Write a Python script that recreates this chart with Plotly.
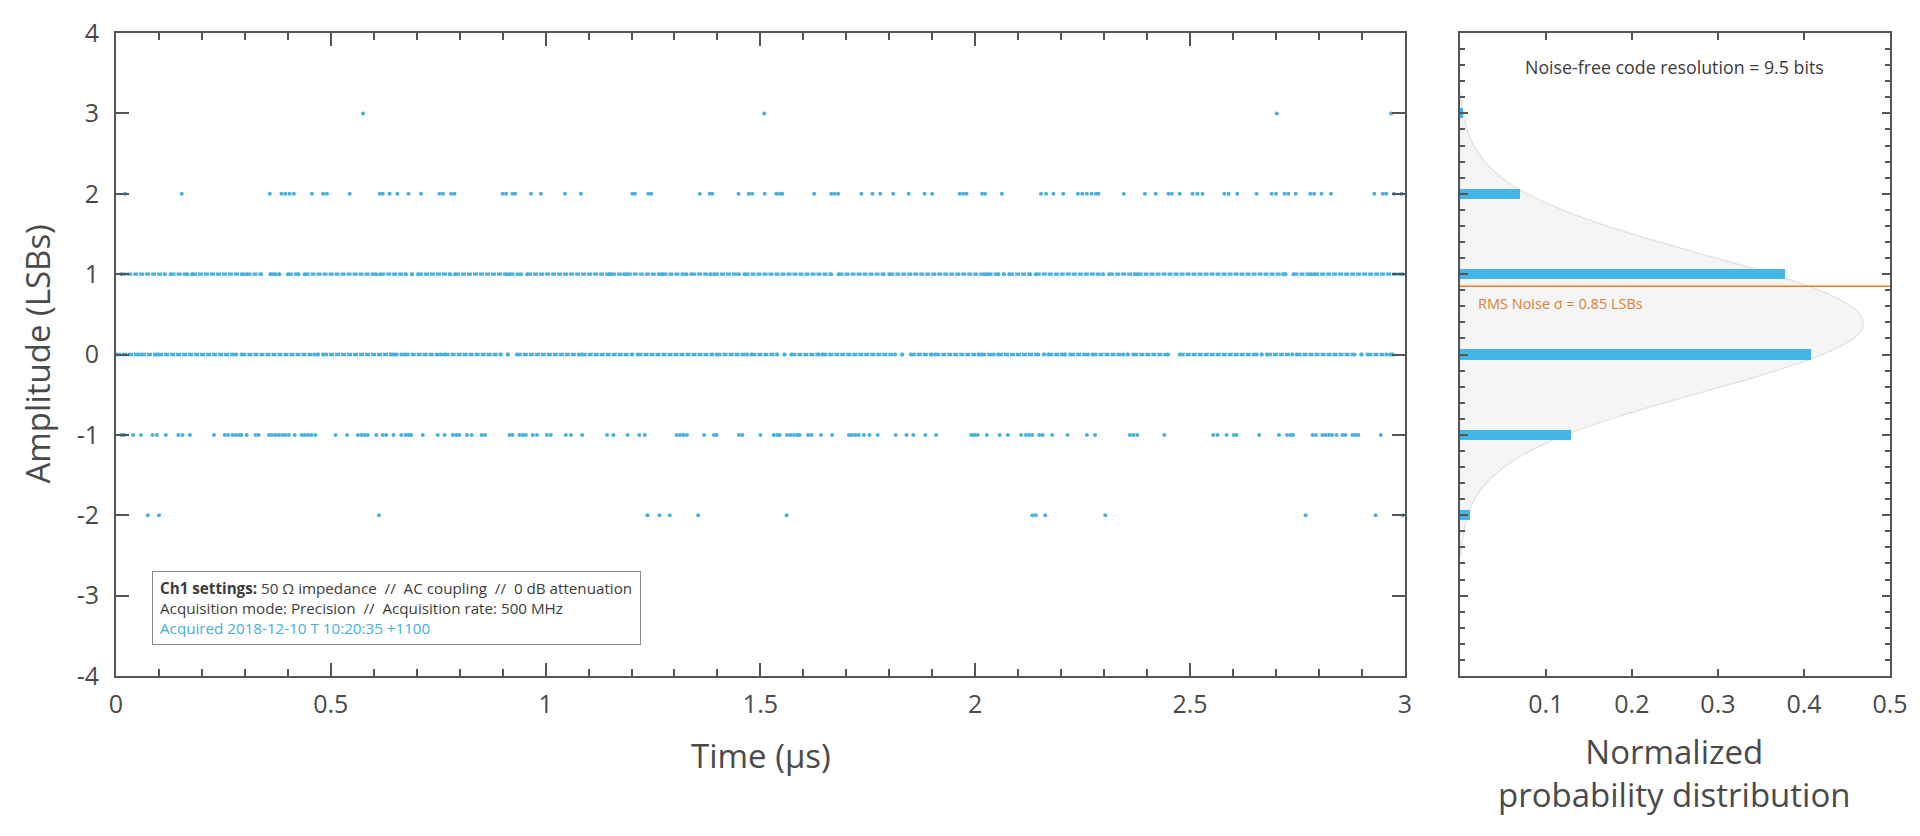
import plotly.graph_objects as go

# ---------------- data ----------------
# Time-domain ADC codes, time in microseconds.
# Dense levels (0 and 1 LSB) are given as runs of consecutive samples (start, end).
level1_runs = [(0.012, 0.114), (0.127, 0.166), (0.177, 0.296), (0.304, 0.338), (0.359, 0.371),
               (0.380, 0.380), (0.400, 0.425), (0.439, 0.606), (0.615, 0.675), (0.689, 0.689),
               (0.703, 0.778), (0.789, 0.910), (0.916, 0.943), (0.957, 1.148), (1.152, 1.183),
               (1.189, 1.267), (1.272, 1.328), (1.339, 1.384), (1.392, 1.450), (1.463, 1.665),
               (1.682, 1.787), (1.800, 2.023), (2.029, 2.054), (2.067, 2.067), (2.079, 2.128),
               (2.141, 2.298), (2.312, 2.372), (2.378, 2.717), (2.722, 2.722), (2.741, 2.782),
               (2.789, 2.995)]
level0_runs = [(0.000, 0.052), (0.058, 0.094), (0.098, 0.280), (0.292, 0.462), (0.470, 0.470),
               (0.482, 0.641), (0.646, 0.665), (0.672, 0.757), (0.765, 0.896), (0.912, 0.912),
               (0.933, 1.078), (1.084, 1.202), (1.214, 1.388), (1.398, 1.469), (1.479, 1.539),
               (1.556, 1.556), (1.572, 1.636), (1.644, 1.814), (1.830, 1.830), (1.850, 1.899),
               (1.907, 2.008), (2.014, 2.043), (2.053, 2.147), (2.160, 2.160), (2.170, 2.203),
               (2.209, 2.209), (2.221, 2.263), (2.273, 2.345), (2.355, 2.355), (2.368, 2.449),
               (2.476, 2.655), (2.667, 2.667), (2.679, 2.738), (2.748, 2.883), (2.899, 2.899),
               (2.913, 2.958), (2.966, 2.972)]
# Sparse levels: individual sample times
level3_t = [0.575, 1.509, 2.702, 2.968]
level2_t = [0.021, 0.153, 0.358, 0.385, 0.394, 0.404, 0.414, 0.456, 0.482, 0.491, 0.544, 0.614,
            0.621, 0.637, 0.655, 0.681, 0.710, 0.753, 0.761, 0.780, 0.788, 0.900, 0.908, 0.923,
            0.929, 0.966, 0.989, 1.045, 1.082, 1.202, 1.208, 1.239, 1.246, 1.359, 1.382, 1.388,
            1.449, 1.473, 1.481, 1.510, 1.537, 1.545, 1.551, 1.625, 1.665, 1.673, 1.681, 1.735,
            1.761, 1.779, 1.809, 1.845, 1.882, 1.900, 1.964, 1.972, 1.980, 2.016, 2.023, 2.062,
            2.153, 2.165, 2.182, 2.205, 2.239, 2.249, 2.260, 2.271, 2.281, 2.287, 2.346, 2.395,
            2.420, 2.450, 2.458, 2.476, 2.506, 2.517, 2.529, 2.580, 2.590, 2.610, 2.655, 2.690,
            2.700, 2.720, 2.729, 2.746, 2.780, 2.789, 2.806, 2.828, 2.929, 2.949, 2.957, 2.975,
            2.992]
levelm1_t = [0.013, 0.019, 0.040, 0.058, 0.085, 0.095, 0.116, 0.145, 0.155, 0.172, 0.228, 0.253,
             0.261, 0.271, 0.279, 0.287, 0.292, 0.304, 0.325, 0.332, 0.356, 0.363, 0.371, 0.379,
             0.387, 0.394, 0.402, 0.416, 0.432, 0.439, 0.447, 0.455, 0.464, 0.511, 0.538, 0.563,
             0.571, 0.579, 0.586, 0.606, 0.621, 0.629, 0.646, 0.664, 0.674, 0.681, 0.687, 0.714,
             0.749, 0.765, 0.784, 0.792, 0.799, 0.817, 0.828, 0.851, 0.859, 0.916, 0.923, 0.939,
             0.947, 0.954, 0.970, 0.980, 1.003, 1.012, 1.047, 1.059, 1.085, 1.143, 1.158, 1.191,
             1.218, 1.231, 1.305, 1.313, 1.321, 1.329, 1.369, 1.392, 1.398, 1.450, 1.458, 1.500,
             1.531, 1.539, 1.545, 1.562, 1.570, 1.578, 1.586, 1.591, 1.611, 1.619, 1.641, 1.667,
             1.706, 1.713, 1.721, 1.729, 1.741, 1.754, 1.773, 1.815, 1.840, 1.856, 1.884, 1.909,
             1.991, 1.998, 2.006, 2.027, 2.057, 2.076, 2.107, 2.118, 2.126, 2.133, 2.149, 2.157,
             2.179, 2.215, 2.260, 2.279, 2.360, 2.368, 2.377, 2.440, 2.554, 2.564, 2.585, 2.602,
             2.608, 2.661, 2.707, 2.726, 2.734, 2.740, 2.785, 2.793, 2.808, 2.816, 2.824, 2.831,
             2.841, 2.855, 2.862, 2.878, 2.885, 2.892, 2.944]
levelm2_t = [0.074, 0.100, 0.612, 1.237, 1.265, 1.289, 1.355, 1.561, 2.133, 2.141, 2.163, 2.303,
             2.769, 2.932, 2.995]

# Histogram of codes (normalized probability)
hist_codes = [-2, -1, 0, 1, 2, 3]
hist_prob = [0.012, 0.129, 0.408, 0.378, 0.070, 0.003]

# Fitted distribution outline (amplitude, probability density)
curve_amp = [3.25, 3.0, 2.75, 2.5, 2.25, 2.0, 1.75, 1.5, 1.25, 1.0, 0.75, 0.5, 0.25, 0.0,
             -0.25, -0.5, -0.75, -1.0, -1.25, -1.5, -1.75, -2.0, -2.25, -2.5]
curve_pdf = [0.001, 0.004, 0.010, 0.022, 0.043, 0.078, 0.131, 0.200, 0.281, 0.363, 0.429, 0.465,
             0.463, 0.422, 0.353, 0.271, 0.191, 0.123, 0.073, 0.040, 0.020, 0.009, 0.004,
             0.0015]

rms_sigma = 0.85
x_ticks_time = [0, 0.5, 1, 1.5, 2, 2.5, 3]
x_ticks_prob = [0.1, 0.2, 0.3, 0.4, 0.5]
y_ticks = [-4, -3, -2, -1, 0, 1, 2, 3, 4]

# ---------------- styling ----------------
FONT = "'Open Sans', Lato, sans-serif"
DOT = "#49b1df"
BAR = "#45b5e6"
AX = "#555555"
TXT = "#4a4a4a"
ORANGE = "#dd8033"

fig = go.Figure()


def runs_xy(runs, lvl):
    xs, ys = [], []
    for a, b in runs:
        xs += [a, b, None]
        ys += [lvl, lvl, None]
    return xs, ys


for runs, lvl in [(level0_runs, 0), (level1_runs, 1)]:
    xs, ys = runs_xy(runs, lvl)
    fig.add_trace(go.Scatter(x=xs, y=ys, mode="lines+markers",
                             line=dict(color=DOT, width=3.4, dash="5px,1px"),
                             marker=dict(color=DOT, size=4), showlegend=False,
                             xaxis="x", yaxis="y", cliponaxis=False))

for ts, lvl in [(level3_t, 3), (level2_t, 2), (levelm1_t, -1), (levelm2_t, -2)]:
    fig.add_trace(go.Scatter(x=ts, y=[lvl] * len(ts), mode="markers",
                             marker=dict(color=DOT, size=4), showlegend=False,
                             xaxis="x", yaxis="y", cliponaxis=False))

# histogram bars
fig.add_trace(go.Bar(x=hist_prob, y=hist_codes, orientation="h", width=0.125,
                     marker=dict(color=BAR, line=dict(width=0)),
                     showlegend=False, xaxis="x2", yaxis="y2"))

# RMS noise line
fig.add_trace(go.Scatter(x=[0, 0.5], y=[rms_sigma, rms_sigma], mode="lines",
                         line=dict(color=ORANGE, width=1.4), showlegend=False,
                         xaxis="x2", yaxis="y2", hoverinfo="skip"))

# distribution outline as a smooth filled shape below the bars
pts = list(zip(curve_pdf, curve_amp))
n = len(pts)
path = f"M 0,{pts[0][1]} L {pts[0][0]},{pts[0][1]}"
for i in range(n - 1):
    p0 = pts[i - 1] if i > 0 else pts[i]
    p1, p2 = pts[i], pts[i + 1]
    p3 = pts[i + 2] if i + 2 < n else p2
    c1 = (p1[0] + (p2[0] - p0[0]) / 6, p1[1] + (p2[1] - p0[1]) / 6)
    c2 = (p2[0] - (p3[0] - p1[0]) / 6, p2[1] - (p3[1] - p1[1]) / 6)
    path += f" C {c1[0]:.5f},{c1[1]:.5f} {c2[0]:.5f},{c2[1]:.5f} {p2[0]:.5f},{p2[1]:.5f}"
path += f" L 0,{pts[-1][1]} Z"
fig.add_shape(type="path", path=path, xref="x2", yref="y2", layer="below",
              fillcolor="#f5f5f6", line=dict(color="#e0e0e2", width=1.2))

common_axis = dict(showline=True, linecolor=AX, linewidth=2, mirror="allticks",
                   showgrid=False, zeroline=False, ticks="inside", tickcolor=AX,
                   tickwidth=2, tickfont=dict(family=FONT, size=25, color=TXT))

fig.update_layout(
    width=1920, height=836,
    margin=dict(l=116, r=27, t=33, b=160),
    paper_bgcolor="white", plot_bgcolor="white",
    font=dict(family=FONT, color=TXT),
    bargap=0,
    xaxis=dict(domain=[0, 0.7265], range=[0, 3], anchor="y",
               tickvals=x_ticks_time, ticktext=[f"{v:g}" for v in x_ticks_time],
               ticklen=13, ticklabelstandoff=5,
               minor=dict(dtick=0.1, ticklen=7, ticks="inside", tickcolor=AX, tickwidth=1.5),
               **common_axis),
    yaxis=dict(domain=[0, 1], range=[-4, 4], anchor="x", tickvals=y_ticks,
               ticktext=[str(v) for v in y_ticks], ticklen=13,
               ticklabelstandoff=10, **common_axis),
    xaxis2=dict(domain=[0.7575, 1], range=[0, 0.5], anchor="y2",
                tickvals=x_ticks_prob, ticktext=[f"{v:g}" for v in x_ticks_prob],
                ticklen=7, ticklabelstandoff=5, **common_axis),
    yaxis2=dict(domain=[0, 1], range=[-4, 4], anchor="x2", dtick=1, ticklen=8,
                showticklabels=False,
                minor=dict(dtick=0.2, ticklen=5, ticks="inside", tickcolor=AX, tickwidth=1.5),
                **common_axis),
)

fig.add_annotation(text="Time (µs)", xref="paper", yref="paper", x=0.3635, y=-0.123,
                   xanchor="center", yanchor="middle", showarrow=False,
                   font=dict(family=FONT, size=33, color=TXT))
fig.add_annotation(text="Amplitude (LSBs)", xref="paper", yref="paper", x=-0.0445, y=0.5,
                   xanchor="center", yanchor="middle", textangle=-90, showarrow=False,
                   font=dict(family=FONT, size=33, color=TXT))
fig.add_annotation(text="Normalized<br>probability distribution", xref="paper", yref="paper",
                   x=0.8787, y=-0.1516, xanchor="center", yanchor="middle", showarrow=False,
                   font=dict(family=FONT, size=33, color=TXT))
fig.add_annotation(text="Noise-free code resolution = 9.5 bits", xref="x2", yref="y2",
                   x=0.25, y=3.58, xanchor="center", yanchor="middle", showarrow=False,
                   font=dict(family=FONT, size=17.8, color="#3c3c3c"))
fig.add_annotation(text=f"RMS Noise σ = {rms_sigma:.2f} LSBs", xref="x2", yref="y2",
                   x=0.019, y=0.63, xanchor="left", yanchor="middle", showarrow=False,
                   font=dict(family=FONT, size=14.5, color=ORANGE))

box_text = ("<b>Ch1 settings:</b> 50 Ω impedance \u00a0//\u00a0 AC coupling \u00a0//\u00a0 0 dB attenuation<br>"
            "Acquisition mode: Precision \u00a0//\u00a0 Acquisition rate: 500 MHz<br>"
            "<span style='color:#3fb0e0'>Acquired 2018-12-10 T 10:20:35 +1100</span>")
fig.add_annotation(text=box_text, xref="paper", yref="paper", x=0.02026, y=0.0482,
                   xanchor="left", yanchor="bottom", showarrow=False, align="left",
                   width=473, height=58, borderpad=7, bordercolor="#8a8a8a", borderwidth=1,
                   bgcolor="white", font=dict(family=FONT, size=15.2, color="#3c3c3c"))

fig.write_html("out.html", config={"displayModeBar": False},
               post_script="document.body.style.margin='0';")
